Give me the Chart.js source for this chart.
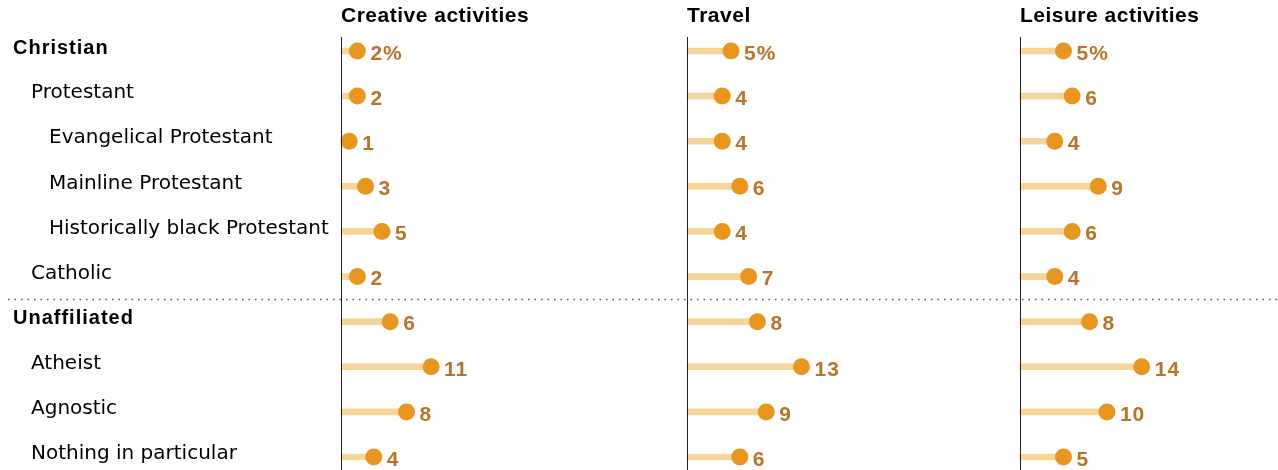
<!DOCTYPE html>
<html><head><meta charset="utf-8">
<script src="https://cdn.jsdelivr.net/npm/chart.js@4"></script>
<style>
body{margin:0;background:#fff;width:1278px;height:470px;overflow:hidden;position:relative}
canvas{position:absolute;left:0;top:0}
</style></head><body>
<canvas id="c1" width="1278" height="470"></canvas>
<canvas id="c2" width="1278" height="470"></canvas>
<canvas id="c3" width="1278" height="470"></canvas>
<script>
const categories = ["Christian","Protestant","Evangelical Protestant","Mainline Protestant","Historically black Protestant","Catholic","Unaffiliated","Atheist","Agnostic","Nothing in particular"];
const indentLevel = [0,1,2,2,2,1,0,1,1,1];
const panelTitles = ["Creative activities","Travel","Leisure activities"];
const creative = [2,2,1,3,5,2,6,11,8,4];
const travel = [5,4,4,6,4,7,8,13,9,6];
const leisure = [5,6,4,9,6,4,8,14,10,5];

const FONT = '"DejaVu Sans", sans-serif';
const BFONT = '"Liberation Sans", Arial, sans-serif';
const panels = [
  {id:'c1', values:creative, title:panelTitles[0], left:341, max:31.5, labels:true},
  {id:'c2', values:travel, title:panelTitles[1], left:687, max:29.3, labels:false},
  {id:'c3', values:leisure, title:panelTitles[2], left:1020, max:28.7, labels:false}
];
const AREA_W = 258;

function makePlugin(p){
  return {
    id:'deco'+p.id,
    afterDatasetsDraw(chart){
      const ctx = chart.ctx, xs = chart.scales.x, ys = chart.scales.y;
      const x0 = xs.getPixelForValue(0);
      ctx.save();
      ctx.strokeStyle = '#222'; ctx.lineWidth = 1;
      ctx.beginPath(); ctx.moveTo(Math.round(x0)+0.5, 37); ctx.lineTo(Math.round(x0)+0.5, 470); ctx.stroke();
      ctx.textBaseline = 'middle'; ctx.textAlign = 'left';
      ctx.fillStyle = '#000'; ctx.font = 'bold 21px ' + BFONT;
      ctx.letterSpacing = '0.5px';
      ctx.fillText(p.title, x0, 16);
      ctx.fillStyle = '#b8742a'; ctx.font = 'bold 21px ' + BFONT;
      ctx.letterSpacing = '1px';
      p.values.forEach((v,i)=>{
        const x = xs.getPixelForValue(v) + 13;
        const y = ys.getPixelForValue(i) + 3;
        ctx.fillText(v + (i===0 ? '%' : ''), x, y);
      });
      if (p.labels){
        categories.forEach((c,i)=>{
          const y = ys.getPixelForValue(i);
          ctx.fillStyle = '#000';
          if (indentLevel[i]===0){ ctx.font = 'bold 20px ' + BFONT; ctx.letterSpacing = '1px'; }
          else { ctx.font = '20px ' + FONT; ctx.letterSpacing = '0px'; }
          ctx.fillText(c, 13 + indentLevel[i]*18, y - 3);
        });
        ctx.letterSpacing = '0px';
        const ySep = (ys.getPixelForValue(5) + ys.getPixelForValue(6)) / 2;
        ctx.strokeStyle = '#555'; ctx.lineWidth = 1.5; ctx.setLineDash([1.5,5]);
        ctx.beginPath(); ctx.moveTo(8, Math.round(ySep)+0.5); ctx.lineTo(1278, Math.round(ySep)+0.5); ctx.stroke();
      }
      ctx.restore();
    }
  };
}

panels.forEach(p=>{
  new Chart(document.getElementById(p.id), {
    type:'bar',
    data:{
      labels:categories,
      datasets:[
        {type:'line', indexAxis:'y', data:p.values, showLine:false, pointRadius:8.5, pointHoverRadius:8.5,
         pointBackgroundColor:'#e8961e', pointBorderWidth:0, clip:false, order:1},
        {type:'bar', data:p.values, backgroundColor:'#f6d59b', barThickness:6, borderWidth:0, clip:false, order:2}
      ]
    },
    options:{
      indexAxis:'y', responsive:false, animation:false,
      layout:{padding:{left:p.left, right:1278 - p.left - AREA_W, top:51, bottom:13}},
      plugins:{legend:{display:false}, tooltip:{enabled:false}},
      scales:{
        x:{type:'linear', min:0, max:p.max, display:false},
        y:{type:'category', offset:false, display:false}
      }
    },
    plugins:[makePlugin(p)]
  });
});
</script>
</body></html>
